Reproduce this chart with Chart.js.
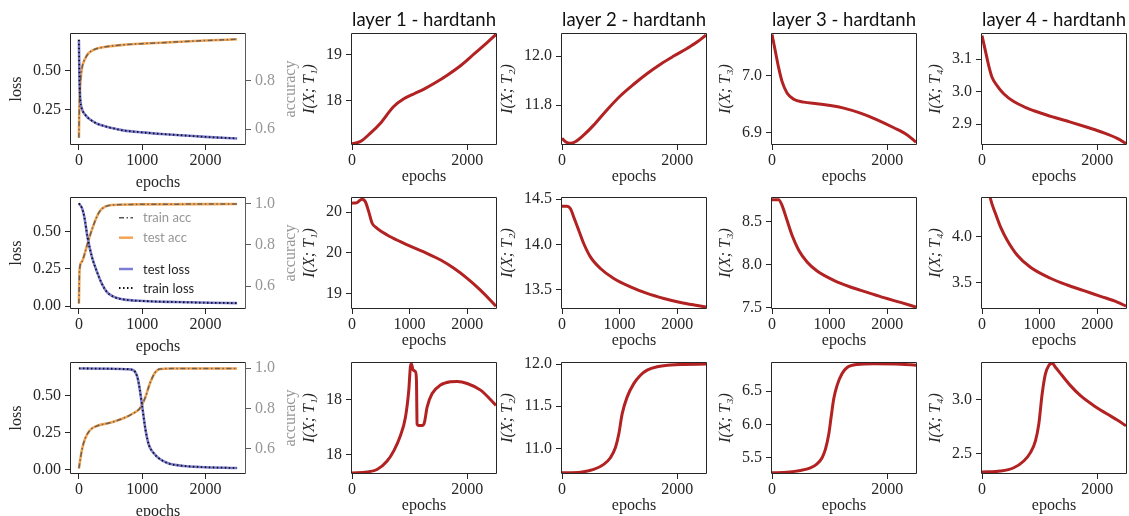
<!DOCTYPE html>
<html>
<head>
<meta charset="utf-8">
<script src="https://cdn.jsdelivr.net/npm/chart.js@4.4.1/dist/chart.umd.min.js"></script>
<style>
  html, body { margin: 0; padding: 0; background: #fff; }
  #fig { position: relative; width: 1129px; height: 516px; overflow: hidden; background: #fff; }
  .cell { position: absolute; left: 0; top: 0; }
  .cell canvas { display: block; }
</style>
</head>
<body>
<div id="fig"></div>
<script>
// ---- labels ----
const layerTitles = ['layer 1 - hardtanh', 'layer 2 - hardtanh', 'layer 3 - hardtanh', 'layer 4 - hardtanh'];
const infoTitles = ['I(X; T\u2081)', 'I(X; T\u2082)', 'I(X; T\u2083)', 'I(X; T\u2084)'];
const legendLabels = ['train acc', 'test acc', 'test loss', 'train loss'];

const xTicksWide = [0, 1000, 2000];
const xLabelsWide = ['0', '1000', '2000'];
const xTicksSparse = [0, 2000];
const xLabelsSparse = ['0', '2000'];

// ---- row 1: loss / accuracy ----
const r1Epochs = [0, 5, 10, 25, 50, 100, 150, 200, 300, 400, 500, 700, 1000, 1300, 1600, 2000, 2500];
const r1Loss = [0.70, 0.55, 0.42, 0.30, 0.25, 0.215, 0.193, 0.178, 0.155, 0.142, 0.131, 0.114, 0.101, 0.091, 0.083, 0.072, 0.062];
const r1Acc = [0.565, 0.66, 0.72, 0.80, 0.855, 0.893, 0.914, 0.924, 0.935, 0.940, 0.944, 0.949, 0.954, 0.958, 0.962, 0.967, 0.972];

// ---- row 2: loss / accuracy ----
const r2LossEpochs = [0, 50, 85, 135, 205, 295, 360, 440, 545, 700, 1020, 1540, 2070, 2500];
const r2Loss = [0.691, 0.657, 0.601, 0.466, 0.332, 0.220, 0.153, 0.096, 0.063, 0.045, 0.034, 0.027, 0.022, 0.020];
const r2AccEpochs = [0, 10, 47, 100, 152, 231, 283, 335, 414, 519, 860, 2500];
const r2Acc = [0.516, 0.677, 0.718, 0.766, 0.822, 0.895, 0.935, 0.964, 0.984, 0.992, 0.995, 0.997];

// ---- row 3: loss / accuracy ----
const r3LossEpochs = [0, 500, 790, 870, 922, 959, 1001, 1053, 1106, 1184, 1263, 1410, 1660, 1910, 2500];
const r3Loss = [0.688, 0.686, 0.682, 0.673, 0.632, 0.553, 0.427, 0.268, 0.166, 0.109, 0.075, 0.041, 0.023, 0.016, 0.009];
const r3AccEpochs = [0, 47, 100, 178, 283, 493, 703, 860, 965, 1044, 1123, 1202, 1280, 1490, 2500];
const r3Acc = [0.504, 0.595, 0.653, 0.694, 0.714, 0.730, 0.752, 0.777, 0.802, 0.851, 0.926, 0.978, 0.996, 0.999, 0.999];

// ---- row 1: I(X;T) per layer ----
const r1EpochsL1 = [0, 140, 320, 490, 720, 900, 1080, 1250, 1430, 1660, 1900, 2130, 2360, 2500];
const r1InfoL1 = [17.07, 17.115, 17.30, 17.51, 17.87, 18.04, 18.15, 18.25, 18.375, 18.555, 18.77, 19.02, 19.27, 19.43];
const r1EpochsL2 = [0, 60, 145, 230, 380, 550, 780, 1010, 1250, 1480, 1710, 1940, 2170, 2350, 2500];
const r1InfoL2 = [11.664, 11.650, 11.644, 11.650, 11.678, 11.718, 11.780, 11.837, 11.886, 11.929, 11.967, 12.0, 12.031, 12.058, 12.086];
const r1EpochsL3 = [0, 58, 116, 174, 261, 377, 551, 783, 1014, 1246, 1536, 1826, 2116, 2348, 2500];
const r1InfoL3 = [7.0718, 7.0423, 7.013, 6.9894, 6.969, 6.958, 6.953, 6.950, 6.947, 6.9425, 6.9337, 6.922, 6.908, 6.8954, 6.8825];
const r1EpochsL4 = [0, 58, 116, 174, 261, 377, 551, 783, 1014, 1246, 1536, 1826, 2116, 2348, 2500];
const r1InfoL4 = [3.172, 3.126, 3.080, 3.044, 3.018, 2.993, 2.969, 2.949, 2.934, 2.921, 2.906, 2.890, 2.873, 2.856, 2.840];

// ---- row 2: I(X;T) per layer ----
const r2EpochsL1 = [0, 87, 175, 230, 290, 350, 435, 610, 840, 1070, 1300, 1540, 1770, 2000, 2230, 2500];
const r2InfoL1 = [20.111, 20.119, 20.16, 20.131, 20.007, 19.864, 19.802, 19.72, 19.637, 19.563, 19.494, 19.411, 19.309, 19.185, 19.04, 18.843];
const r2EpochsL2 = [0, 87, 145, 203, 290, 377, 493, 667, 899, 1188, 1478, 1768, 2058, 2348, 2500];
const r2InfoL2 = [14.421, 14.421, 14.396, 14.303, 14.157, 14.011, 13.864, 13.736, 13.626, 13.534, 13.462, 13.407, 13.363, 13.330, 13.314];
const r2EpochsL3 = [0, 116, 174, 261, 348, 464, 609, 783, 1072, 1362, 1652, 1942, 2232, 2500];
const r2InfoL3 = [8.752, 8.752, 8.686, 8.512, 8.337, 8.163, 8.027, 7.922, 7.814, 7.736, 7.674, 7.612, 7.557, 7.503];
const r2EpochsL4 = [0, 60, 100, 145, 232, 319, 435, 609, 841, 1188, 1478, 1768, 2058, 2348, 2500];
const r2InfoL4 = [4.72, 4.68, 4.58, 4.417, 4.254, 4.109, 3.964, 3.801, 3.667, 3.548, 3.475, 3.413, 3.352, 3.29, 3.245];

// ---- row 3: I(X;T) per layer ----
const r3EpochsL1 = [0, 260, 435, 610, 725, 840, 928, 986, 1014, 1032, 1061, 1101, 1119, 1130, 1160, 1217, 1258, 1304, 1391, 1536, 1710, 1826, 2000, 2232, 2500];
const r3InfoL1 = [17.331, 17.34, 17.362, 17.439, 17.531, 17.669, 17.837, 18.083, 18.297, 18.322, 18.267, 18.251, 18.175, 17.776, 17.761, 17.761, 17.791, 17.929, 18.052, 18.129, 18.159, 18.162, 18.144, 18.083, 17.945];
const r3EpochsL2 = [0, 320, 550, 725, 840, 928, 986, 1044, 1130, 1246, 1362, 1478, 1652, 1884, 2058, 2500];
const r3InfoL2 = [10.711, 10.719, 10.751, 10.811, 10.890, 11.010, 11.170, 11.409, 11.608, 11.768, 11.867, 11.927, 11.967, 11.987, 11.995, 11.999];
const r3EpochsL3 = [0, 261, 493, 667, 783, 870, 928, 986, 1026, 1072, 1130, 1217, 1304, 1478, 1768, 2232, 2500];
const r3InfoL3 = [5.269, 5.280, 5.306, 5.346, 5.406, 5.498, 5.626, 5.854, 6.107, 6.387, 6.589, 6.767, 6.858, 6.904, 6.913, 6.908, 6.893];
const r3EpochsL4 = [0, 319, 551, 725, 841, 928, 986, 1044, 1101, 1159, 1217, 1275, 1391, 1536, 1710, 1942, 2174, 2348, 2500];
const r3InfoL4 = [2.328, 2.337, 2.368, 2.431, 2.509, 2.619, 2.775, 3.056, 3.244, 3.321, 3.343, 3.306, 3.228, 3.134, 3.040, 2.947, 2.869, 2.813, 2.759];

// ---- styling ----
const SERIF = "'Liberation Serif', 'DejaVu Serif', serif";
const SANS = "Lato, 'DejaVu Sans', sans-serif";
const INK = '#262626';
const GREY = '#969696';
const RED = '#b22222';
const tickFont = { family: SERIF, size: 16, lineHeight: 1 };

const plotTops = [34, 198, 363];
const plotH = 110;
const lossLeft = 71, lossW = 174;
const infoLefts = [352, 562, 772, 982];
const infoW = 144;

const fig = document.getElementById('fig');

function line(xs, ys, color, width, dash, axis) {
  return {
    data: xs.map((x, i) => ({ x: x, y: ys[i] })),
    borderColor: color,
    borderWidth: width,
    borderDash: dash || [],
    pointRadius: 0,
    fill: false,
    cubicInterpolationMode: 'monotone',
    clip: 0,
    yAxisID: axis || 'y'
  };
}

function xAxis(min, max, ticks, labels, titlePad) {
  return {
    type: 'linear', position: 'bottom', min: min, max: max,
    afterBuildTicks: s => { s.ticks = ticks.map(v => ({ value: v })); },
    afterFit: s => { s.height = Math.round(s.height); },
    ticks: { callback: (v, i) => labels[i], color: INK, font: tickFont, padding: 3, maxRotation: 0, autoSkip: false },
    grid: { drawOnChartArea: false, tickLength: 6, tickColor: INK, tickWidth: 1 },
    border: { display: false },
    title: { display: true, text: 'epochs', color: INK, font: tickFont, padding: { top: titlePad, bottom: 0 } }
  };
}

function yAxis(min, max, ticks, labels, opt) {
  opt = opt || {};
  return {
    type: 'linear', position: opt.position || 'left', min: min, max: max,
    afterBuildTicks: s => { s.ticks = ticks.map(v => ({ value: v })); },
    afterFit: s => { s.width = Math.round(s.width); },
    ticks: { callback: (v, i) => labels[i], color: opt.color || INK, font: tickFont, padding: 4, autoSkip: false },
    grid: { drawOnChartArea: false, tickLength: 6, tickColor: opt.tickColor || INK, tickWidth: 1 },
    border: { display: false },
    title: opt.title ? {
      display: true, text: opt.title, color: INK,
      font: { family: SERIF, size: 16, lineHeight: 1, style: opt.italic ? 'italic' : 'normal' },
      padding: { top: 0, bottom: 4 }
    } : { display: false }
  };
}

// axes frame (matplotlib spines)
const framePlugin = {
  id: 'frame',
  afterDatasetsDraw(chart) {
    const { ctx, chartArea: a } = chart;
    const l = Math.round(a.left) - 0.5, r = Math.round(a.right) + 0.5;
    const t = Math.round(a.top) - 0.5, b = Math.round(a.bottom) + 0.5;
    const twin = !!chart.scales.acc;
    ctx.save();
    ctx.lineWidth = 1;
    ctx.strokeStyle = INK;
    ctx.beginPath();
    ctx.moveTo(r, t); ctx.lineTo(l, t); ctx.lineTo(l, b); ctx.lineTo(r, b);
    if (!twin) ctx.lineTo(r, t);
    ctx.stroke();
    if (twin) {
      ctx.strokeStyle = '#5a5a5a';
      ctx.beginPath(); ctx.moveTo(r, t); ctx.lineTo(r, b); ctx.stroke();
    }
    ctx.restore();
  }
};

// right-hand "accuracy" label, reading bottom to top like matplotlib
const accTitlePlugin = {
  id: 'accTitle',
  afterDraw(chart) {
    const s = chart.scales.acc;
    const { ctx, chartArea: a } = chart;
    ctx.save();
    ctx.font = '16px ' + SERIF;
    const widest = Math.max(...s.ticks.map(t => ctx.measureText(t.label).width));
    ctx.translate(s.left + 10 + widest + 16, (a.top + a.bottom) / 2);
    ctx.rotate(-Math.PI / 2);
    ctx.textAlign = 'center';
    ctx.textBaseline = 'middle';
    ctx.fillStyle = GREY;
    ctx.fillText('accuracy', 0, 0);
    ctx.restore();
  }
};

// two stacked legends inside the middle loss panel
const legendPlugin = {
  id: 'pairLegend',
  afterDraw(chart) {
    const { ctx, chartArea: a } = chart;
    const rows = [19.7, 39.7, 71, 90];
    const styles = [
      { color: '#555555', width: 1.5, dash: [5, 2.5, 1.5, 2.5], text: GREY },
      { color: '#f2a654', width: 2.5, dash: [], text: GREY },
      { color: '#7c7cd4', width: 2.5, dash: [], text: INK },
      { color: '#111111', width: 1.8, dash: [1.5, 2.5], text: INK }
    ];
    ctx.save();
    ctx.font = '13px ' + SANS;
    ctx.textBaseline = 'middle';
    legendLabels.forEach((label, i) => {
      const y = a.top + rows[i];
      const st = styles[i];
      ctx.strokeStyle = st.color;
      ctx.lineWidth = st.width;
      ctx.setLineDash(st.dash);
      ctx.beginPath();
      ctx.moveTo(a.left + 48, y);
      ctx.lineTo(a.left + 62, y);
      ctx.stroke();
      ctx.setLineDash([]);
      ctx.fillStyle = st.text;
      ctx.fillText(label, a.left + 72, y + 0.5);
    });
    ctx.restore();
  }
};

function makeChart(cfg, plotL, plotT, plotW) {
  const box = document.createElement('div');
  box.className = 'cell';
  const canvas = document.createElement('canvas');
  canvas.width = 340;
  canvas.height = 260;
  box.appendChild(canvas);
  fig.appendChild(box);
  const chart = new Chart(canvas, cfg);
  const a = chart.chartArea;
  const padL = Math.round(a.left), padT = Math.round(a.top);
  const padR = Math.round(chart.width - a.right), padB = Math.round(chart.height - a.bottom);
  box.style.left = (plotL - padL) + 'px';
  box.style.top = (plotT - padT) + 'px';
  chart.resize(padL + plotW + padR, padT + plotH + padB);
  chart.update();
  return chart;
}

const baseOptions = {
  responsive: false,
  maintainAspectRatio: false,
  animation: false,
  events: []
};

// ---- left column: loss + accuracy ----
const lossPanels = [
  { lossX: r1Epochs, loss: r1Loss, accX: r1Epochs, acc: r1Acc,
    lossRange: [0.026, 0.737], lossTicks: [0.25, 0.5], lossLabels: ['0.25', '0.50'],
    accRange: [0.539, 0.994], accTicks: [0.6, 0.8], accLabels: ['0.6', '0.8'] },
  { lossX: r2LossEpochs, loss: r2Loss, accX: r2AccEpochs, acc: r2Acc, legend: true,
    lossRange: [-0.013, 0.727], lossTicks: [0, 0.25, 0.5], lossLabels: ['0.00', '0.25', '0.50'],
    accRange: [0.494, 1.026], accTicks: [0.6, 0.8, 1.0], accLabels: ['0.6', '0.8', '1.0'] },
  { lossX: r3LossEpochs, loss: r3Loss, accX: r3AccEpochs, acc: r3Acc,
    lossRange: [-0.025, 0.725], lossTicks: [0, 0.25, 0.5], lossLabels: ['0.00', '0.25', '0.50'],
    accRange: [0.481, 1.026], accTicks: [0.6, 0.8, 1.0], accLabels: ['0.6', '0.8', '1.0'] }
];

lossPanels.forEach((p, row) => {
  const plugins = [framePlugin, accTitlePlugin];
  if (p.legend) plugins.push(legendPlugin);
  makeChart({
    type: 'line',
    data: {
      datasets: [
        line(p.lossX, p.loss, '#111111', 1.8, [1.5, 2.5], 'y'),
        line(p.accX, p.acc, 'rgba(85,85,85,0.85)', 1.5, [5, 2.5, 1.5, 2.5], 'acc'),
        line(p.lossX, p.loss, '#7c7cd4', 2.6, [], 'y'),
        line(p.accX, p.acc, '#f2a654', 2.6, [], 'acc')
      ]
    },
    options: Object.assign({}, baseOptions, {
      layout: { padding: { top: 12, right: 28, left: 0, bottom: 0 } },
      plugins: { legend: { display: false }, tooltip: { enabled: false }, title: { display: false } },
      scales: {
        x: xAxis(-125, 2625, xTicksWide, xLabelsWide, 3),
        y: yAxis(p.lossRange[0], p.lossRange[1], p.lossTicks, p.lossLabels, { title: 'loss' }),
        acc: yAxis(p.accRange[0], p.accRange[1], p.accTicks, p.accLabels,
          { position: 'right', color: GREY, tickColor: '#5a5a5a' })
      }
    }),
    plugins: plugins
  }, lossLeft, plotTops[row], lossW);
});

// ---- I(X;T) panels ----
const infoPanels = [
  [
    { x: r1EpochsL1, y: r1InfoL1, range: [17.065, 19.44], ticks: [18, 19], labels: ['18', '19'] },
    { x: r1EpochsL2, y: r1InfoL2, range: [11.641, 12.09], ticks: [11.8, 12.0], labels: ['11.8', '12.0'] },
    { x: r1EpochsL3, y: r1InfoL3, range: [6.8795, 7.0725], ticks: [6.9, 7.0], labels: ['6.9', '7.0'] },
    { x: r1EpochsL4, y: r1InfoL4, range: [2.8385, 3.177], ticks: [2.9, 3.0, 3.1], labels: ['2.9', '3.0', '3.1'] }
  ],
  [
    { x: r2EpochsL1, y: r2InfoL1, range: [18.82, 20.175], ticks: [19, 19.5, 20], labels: ['19', '20', '20'] },
    { x: r2EpochsL2, y: r2InfoL2, range: [13.302, 14.511], ticks: [13.5, 14.0, 14.5], labels: ['13.5', '14.0', '14.5'] },
    { x: r2EpochsL3, y: r2InfoL3, range: [7.492, 8.771], ticks: [7.5, 8.0, 8.5], labels: ['7.5', '8.0', '8.5'] },
    { x: r2EpochsL4, y: r2InfoL4, range: [3.225, 4.42], ticks: [3.5, 4.0], labels: ['3.5', '4.0'] }
  ],
  [
    { x: r3EpochsL1, y: r3InfoL1, range: [17.33, 18.33], ticks: [17.5, 18.0], labels: ['18', '18'] },
    { x: r3EpochsL2, y: r3InfoL2, range: [10.709, 12.012], ticks: [11.0, 11.5, 12.0], labels: ['11.0', '11.5', '12.0'] },
    { x: r3EpochsL3, y: r3InfoL3, range: [5.267, 6.926], ticks: [5.5, 6.0, 6.5], labels: ['5.5', '6.0', '6.5'] },
    { x: r3EpochsL4, y: r3InfoL4, range: [2.319, 3.345], ticks: [2.5, 3.0], labels: ['2.5', '3.0'] }
  ]
];

infoPanels.forEach((rowPanels, row) => {
  rowPanels.forEach((p, col) => {
    const titled = row === 0;
    const xt = row === 1 ? xTicksWide : xTicksSparse;
    const xl = row === 1 ? xLabelsWide : xLabelsSparse;
    makeChart({
      type: 'line',
      data: { datasets: [line(p.x, p.y, RED, 3, [], 'y')] },
      options: Object.assign({}, baseOptions, {
        layout: { padding: { top: titled ? 0 : 12, right: 8, left: 0, bottom: 0 } },
        plugins: {
          legend: { display: false },
          tooltip: { enabled: false },
          title: titled ? {
            display: true, text: layerTitles[col], fullSize: false, color: '#111',
            font: { family: SANS, size: 19, weight: 'normal', lineHeight: 1.2 },
            padding: { top: 8, bottom: 3.2 }
          } : { display: false }
        },
        scales: {
          x: xAxis(0, 2500, xt, xl, -3),
          y: yAxis(p.range[0], p.range[1], p.ticks, p.labels, { title: infoTitles[col], italic: true })
        }
      }),
      plugins: [framePlugin]
    }, infoLefts[col], plotTops[row], infoW);
  });
});
</script>
</body>
</html>
